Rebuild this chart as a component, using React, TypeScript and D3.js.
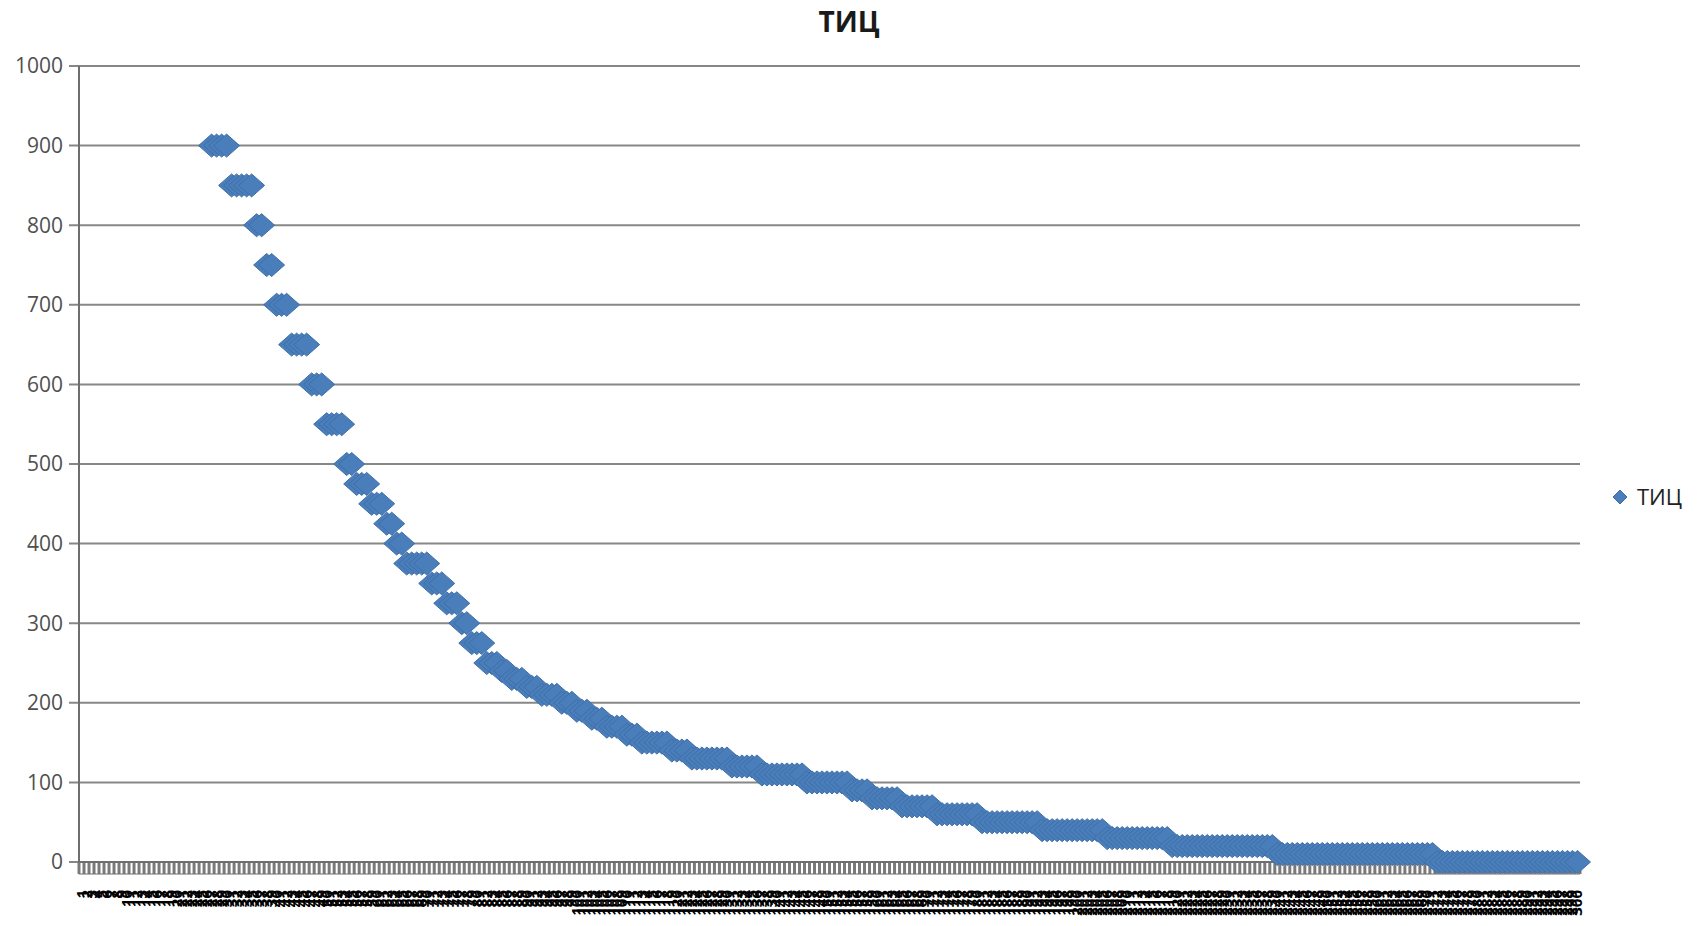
import React from "react";
import * as d3 from "d3";

const TITLE = "ТИЦ";
const SERIES_NAME = "ТИЦ";
const Y_TICKS = [0, 100, 200, 300, 400, 500, 600, 700, 800, 900, 1000];

// Sorted TIC values, one per category. The first categories lie above the
// 1000 axis maximum and are not visible in the reference (kept as null).
const TIC_VALUES: (number | null)[] = [
  null, null, null, null, null, null, null, null, null, null,
  null, null, null, null, null, null, null, null, null, null,
  null, null, null, null, null, null,
  900, 900, 900, 900,
  850, 850, 850, 850, 850,
  800, 800,
  750, 750,
  700, 700, 700,
  650, 650, 650, 650,
  600, 600, 600,
  550, 550, 550, 550,
  500, 500,
  475, 475, 475,
  450, 450, 450,
  425, 425,
  400, 400,
  375, 375, 375, 375, 375,
  350, 350, 350,
  325, 325, 325,
  300, 300,
  275, 275, 275,
  250, 250, 250,
  240, 240,
  230, 230, 230,
  220, 220, 220,
  210, 210, 210, 210,
  200, 200, 200,
  190, 190, 190,
  180, 180, 180,
  170, 170, 170, 170,
  160, 160, 160,
  150, 150, 150, 150, 150, 150,
  140, 140, 140, 140,
  130, 130, 130, 130, 130, 130, 130, 130,
  120, 120, 120, 120, 120, 120,
  110, 110, 110, 110, 110, 110, 110, 110, 110,
  100, 100, 100, 100, 100, 100, 100, 100, 100,
  90, 90, 90, 90,
  80, 80, 80, 80, 80, 80,
  70, 70, 70, 70, 70, 70, 70,
  60, 60, 60, 60, 60, 60, 60, 60, 60,
  50, 50, 50, 50, 50, 50, 50, 50, 50, 50, 50, 50,
  40, 40, 40, 40, 40, 40, 40, 40, 40, 40, 40, 40, 40,
  30, 30, 30, 30, 30, 30, 30, 30, 30, 30, 30, 30, 30,
  20, 20, 20, 20, 20, 20, 20, 20, 20, 20, 20, 20, 20, 20, 20, 20, 20, 20, 20, 20, 20,
  10, 10, 10, 10, 10, 10, 10, 10, 10, 10, 10, 10, 10, 10, 10, 10,
  10, 10, 10, 10, 10, 10, 10, 10, 10, 10, 10, 10, 10, 10, 10, 10,
  0, 0, 0, 0, 0, 0, 0, 0, 0, 0, 0, 0, 0, 0, 0, 0, 0, 0, 0, 0,
  0, 0, 0, 0, 0, 0, 0, 0, 0,
];

// Category labels (unreadable in the reference) – numbered positions
const CATEGORIES: string[] = TIC_VALUES.map((_, i) => String(i + 1));

const FONT = "'Open Sans', 'Noto Sans', sans-serif";

export default function App() {
  const W = 1699;
  const H = 926;
  const left = 79;
  const right = 1580;
  const top = 66;
  const bottom = 862;

  const x = d3
    .scaleBand<string>()
    .domain(CATEGORIES)
    .range([left, right])
    .paddingInner(0)
    .paddingOuter(0);
  const y = d3.scaleLinear().domain([0, 1000]).range([bottom, top]);
  const bw = x.bandwidth();

  const diamond = (cx: number, cy: number, hw: number, hh: number) =>
    `M${cx},${cy - hh}L${cx + hw},${cy}L${cx},${cy + hh}L${cx - hw},${cy}Z`;

  const boundaries = CATEGORIES.map((c) => x(c) as number).concat([right]);

  return (
    <svg
      width={W}
      height={H}
      style={{ position: "absolute", left: 0, top: 0, background: "#fff", overflow: "hidden" }}
      xmlns="http://www.w3.org/2000/svg"
    >
      <rect x={0} y={0} width={W} height={H} fill="#fff" />
      {/* title */}
      <text
        x={849}
        y={32}
        textAnchor="middle"
        fontFamily={FONT}
        fontWeight="bold"
        fontSize={28}
        fill="#1a1a1a"
      >
        {TITLE}
      </text>

      {/* gridlines + y ticks */}
      {Y_TICKS.map((t) => (
        <g key={t}>
          <line x1={left - 10} x2={right} y1={y(t)} y2={y(t)} stroke="#878787" strokeWidth={2} />
          <text
            x={63}
            y={y(t)}
            dy="0.35em"
            textAnchor="end"
            fontFamily={FONT}
            fontSize={21}
            fill="#505050"
          >
            {t}
          </text>
        </g>
      ))}

      {/* y axis line */}
      <line x1={left} x2={left} y1={top} y2={bottom} stroke="#6e6e6e" strokeWidth={2} />

      {/* category tick marks (dense band) */}
      {boundaries.map((bx, i) => (
        <line key={"t" + i} x1={bx} x2={bx} y1={bottom} y2={bottom + 12} stroke="#7a7a7a" strokeWidth={3} />
      ))}
      <line x1={left} x2={right} y1={bottom} y2={bottom} stroke="#6e6e6e" strokeWidth={2} />
      <line x1={left} x2={right} y1={bottom + 12} y2={bottom + 12} stroke="#6e6e6e" strokeWidth={1} />

      {/* category labels, rotated */}
      {CATEGORIES.map((c) => {
        const cx = (x(c) as number) + bw / 2;
        return (
          <text
            key={"l" + c}
            transform={`translate(${cx + 5},${890}) rotate(-90)`}
            textAnchor="end"
            fontFamily={FONT}
            fontWeight="bold"
            fontSize={15}
            fill="#000"
          >
            {c}
          </text>
        );
      })}

      {/* markers */}
      {TIC_VALUES.map((v, i) =>
        v == null ? null : (
          <path
            key={"m" + i}
            d={diamond((x(CATEGORIES[i]) as number) + bw / 2, y(v), 13, 11.5)}
            fill="#4a7ebb"
            stroke="#3f6fa8"
            strokeWidth={1}
          />
        )
      )}

      {/* legend */}
      <path d={diamond(1620, 497, 7, 7)} fill="#4a7ebb" stroke="#3f6fa8" strokeWidth={1} />
      <text x={1637} y={505} fontFamily={FONT} fontSize={22} fill="#222">
        {SERIES_NAME}
      </text>
    </svg>
  );
}
